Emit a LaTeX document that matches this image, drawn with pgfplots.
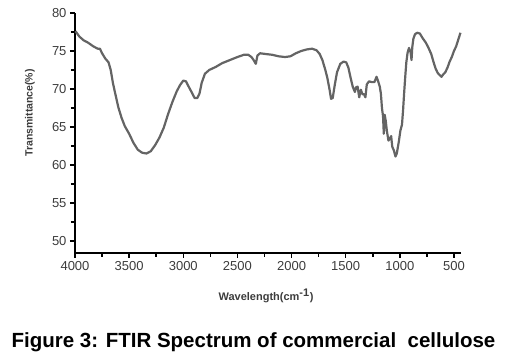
\documentclass[border=0pt]{standalone}
\usepackage{pgfplots}
\pgfplotsset{compat=1.18}
\usepackage{fontspec}
\setmainfont{Liberation Sans}
\definecolor{curve}{RGB}{100,100,100}
\definecolor{ticktext}{RGB}{60,60,60}
\begin{document}
\begin{tikzpicture}[x=1pt,y=1pt]
\useasboundingbox (0,0) rectangle (508,358);
\begin{axis}[
  at={(75pt,105pt)}, anchor=south west,
  scale only axis, width=386pt, height=240pt,
  x dir=reverse,
  xmin=435, xmax=4000, ymin=48.4, ymax=80,
  axis x line=bottom, axis y line=left,
  axis line style={-, line width=1.5pt, black},
  xtick={4000,3500,3000,2500,2000,1500,1000,500},
  ytick={50,55,60,65,70,75,80},
  minor x tick num=1, minor y tick num=1,
  tick align=outside,
  major tick length=5pt, minor tick length=4pt,
  every tick/.style={line width=1.5pt, black},
  /pgf/number format/assume math mode=true,
  /pgf/number format/1000 sep={},
  ticklabel style={font=\fontsize{13}{15}\selectfont, text=ticktext},
  clip=false,
]
\addplot[curve, line width=2.2pt, line join=round] coordinates {
(3995,77.6)(3960,76.9)(3920,76.4)(3880,76.1)(3830,75.6)(3790,75.3)(3770,75.3)
(3750,74.7)(3720,74.0)(3690,73.5)(3670,72.5)(3650,70.8)(3630,69.5)(3600,67.6)
(3570,66.2)(3540,65.1)(3500,64.1)(3460,62.9)(3420,62.0)(3380,61.6)(3340,61.5)
(3300,61.8)(3260,62.6)(3220,63.6)(3180,64.9)(3140,66.7)(3100,68.3)(3060,69.7)
(3030,70.5)(3000,71.1)(2975,71.0)(2950,70.3)(2920,69.5)(2895,68.8)(2870,68.8)
(2850,69.4)(2830,70.8)(2800,72.0)(2760,72.5)(2700,72.9)(2640,73.4)(2570,73.8)
(2500,74.2)(2440,74.5)(2400,74.5)(2370,74.2)(2350,73.8)(2330,73.3)(2315,74.4)
(2290,74.7)(2240,74.6)(2180,74.5)(2120,74.3)(2060,74.2)(2010,74.3)(1960,74.7)
(1910,75.0)(1860,75.2)(1810,75.3)(1770,75.1)(1740,74.6)(1715,73.8)(1690,72.6)
(1670,71.5)(1650,70.0)(1635,68.7)(1620,68.8)(1600,70.6)(1580,72.2)(1550,73.3)
(1520,73.6)(1495,73.5)(1475,72.8)(1455,71.5)(1435,70.3)(1415,69.6)(1405,70.2)
(1390,70.3)(1375,68.9)(1360,69.9)(1345,69.3)(1330,69.3)(1318,68.9)(1305,70.6)
(1285,71.0)(1260,70.9)(1235,70.9)(1215,71.6)(1200,71.0)(1185,70.3)(1175,69.4)
(1165,67.5)(1155,66.4)(1148,64.1)(1140,66.6)(1130,65.8)(1120,64.5)(1105,63.2)
(1090,63.5)(1080,63.8)(1070,62.4)(1055,61.9)(1040,61.1)(1028,61.5)(1010,63.0)
(995,64.5)(980,65.3)(970,67.2)(960,69.5)(950,71.6)(940,73.5)(928,74.8)
(915,75.4)(900,74.8)(892,73.8)(885,75.5)(875,76.6)(860,77.2)(840,77.4)
(815,77.3)(790,76.7)(760,76.1)(735,75.4)(710,74.6)(690,73.6)(670,72.7)
(650,72.1)(630,71.8)(615,71.6)(600,71.9)(580,72.2)(560,72.8)(540,73.6)
(520,74.2)(500,75.0)(480,75.6)(460,76.5)(440,77.4)
};
\end{axis}
\node[rotate=90, font=\bfseries\fontsize{10.5}{12}\selectfont, text=ticktext] at (30,245) {Transmittance(\%)};
\node[font=\bfseries\fontsize{11}{13}\selectfont, text=ticktext] at (266,62) {Wavelength(cm$^{\textbf{-1}}$)};
\node[anchor=base, inner sep=0pt, font=\bfseries\fontsize{20.5}{23}\selectfont] at (253.5,10.7) {Figure 3: FTIR Spectrum of commercial\ \ cellulose};
\end{tikzpicture}
\end{document}
